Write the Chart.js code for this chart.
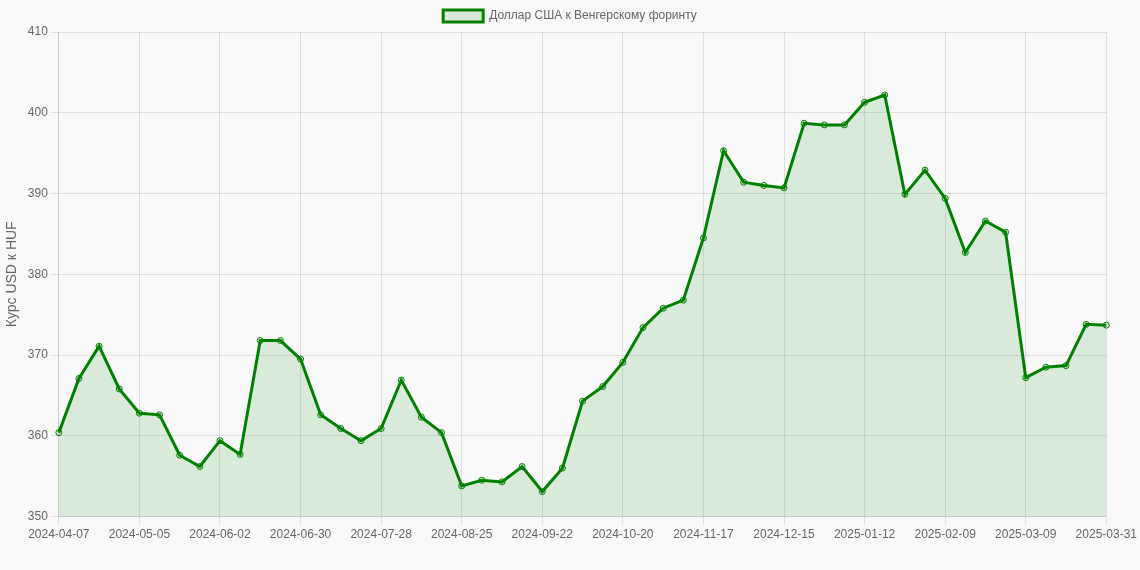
<!DOCTYPE html>
<html>
<head>
<meta charset="utf-8">
<script src="https://cdn.jsdelivr.net/npm/chart.js@4/dist/chart.umd.min.js"></script>
<style>
  html, body { margin: 0; padding: 0; background: #f9f9f9; }
  #wrap { width: 1140px; height: 570px; }
</style>
</head>
<body>
<div id="wrap"><canvas id="rateChart"></canvas></div>
<script>
const dates = [
  "2024-04-07", "2024-04-14", "2024-04-21", "2024-04-28",
  "2024-05-05", "2024-05-12", "2024-05-19", "2024-05-26",
  "2024-06-02", "2024-06-09", "2024-06-16", "2024-06-23",
  "2024-06-30", "2024-07-07", "2024-07-14", "2024-07-21",
  "2024-07-28", "2024-08-04", "2024-08-11", "2024-08-18",
  "2024-08-25", "2024-09-01", "2024-09-08", "2024-09-15",
  "2024-09-22", "2024-09-29", "2024-10-06", "2024-10-13",
  "2024-10-20", "2024-10-27", "2024-11-03", "2024-11-10",
  "2024-11-17", "2024-11-24", "2024-12-01", "2024-12-08",
  "2024-12-15", "2024-12-22", "2024-12-29", "2025-01-05",
  "2025-01-12", "2025-01-19", "2025-01-26", "2025-02-02",
  "2025-02-09", "2025-02-16", "2025-02-23", "2025-03-02",
  "2025-03-09", "2025-03-16", "2025-03-23", "2025-03-30",
  "2025-03-31",
];

const usdHuf = [
  360.4, 367.1, 371.1, 365.8, 362.8, 362.6, 357.6, 356.2,
  359.4, 357.7, 371.8, 371.8, 369.5, 362.6, 360.9, 359.4,
  360.9, 366.9, 362.3, 360.4, 353.8, 354.5, 354.3, 356.2,
  353.1, 356.0, 364.3, 366.1, 369.1, 373.4, 375.8, 376.8,
  384.5, 395.3, 391.4, 391.0, 390.7, 398.7, 398.5, 398.5,
  401.3, 402.2, 389.9, 392.9, 389.4, 382.7, 386.6, 385.2,
  367.2, 368.5, 368.7, 373.8, 373.7,
];

const yMin = 350;
const yMax = 410;
const yStep = 10;

Chart.defaults.font.family = '"Liberation Sans", Arial, Helvetica, sans-serif';
Chart.defaults.font.size = 12;
Chart.defaults.color = "#666";

const ctx = document.getElementById("rateChart").getContext("2d");
const rateChart = new Chart(ctx, {
  type: "line",
  data: {
    labels: dates,
    datasets: [
      {
        label: "Доллар США к Венгерскому форинту",
        data: usdHuf,
        borderColor: "rgb(0, 128, 0)",
        backgroundColor: "rgba(0, 128, 0, 0.12)",
        borderWidth: 3,
        fill: true,
        tension: 0,
        pointRadius: 3,
        pointBorderWidth: 1,
        pointBorderColor: "rgb(0, 128, 0)",
        pointBackgroundColor: "rgba(0, 128, 0, 0.12)",
      },
    ],
  },
  options: {
    responsive: true,
    maintainAspectRatio: false,
    animation: false,
    layout: { padding: { bottom: 25 } },
    plugins: {
      legend: {
        labels: { boxWidth: 40, boxHeight: 12, padding: 10 },
      },
      tooltip: { enabled: false },
    },
    scales: {
      x: {
        grid: { color: "rgba(0, 0, 0, 0.1)" },
        ticks: { maxRotation: 0, autoSkip: true, autoSkipPadding: 3 },
      },
      y: {
        min: yMin,
        max: yMax,
        ticks: { stepSize: yStep },
        grid: { color: "rgba(0, 0, 0, 0.1)" },
        title: {
          display: true,
          text: "Курс USD к HUF",
          font: { size: 14 },
        },
      },
    },
  },
});
</script>
</body>
</html>
